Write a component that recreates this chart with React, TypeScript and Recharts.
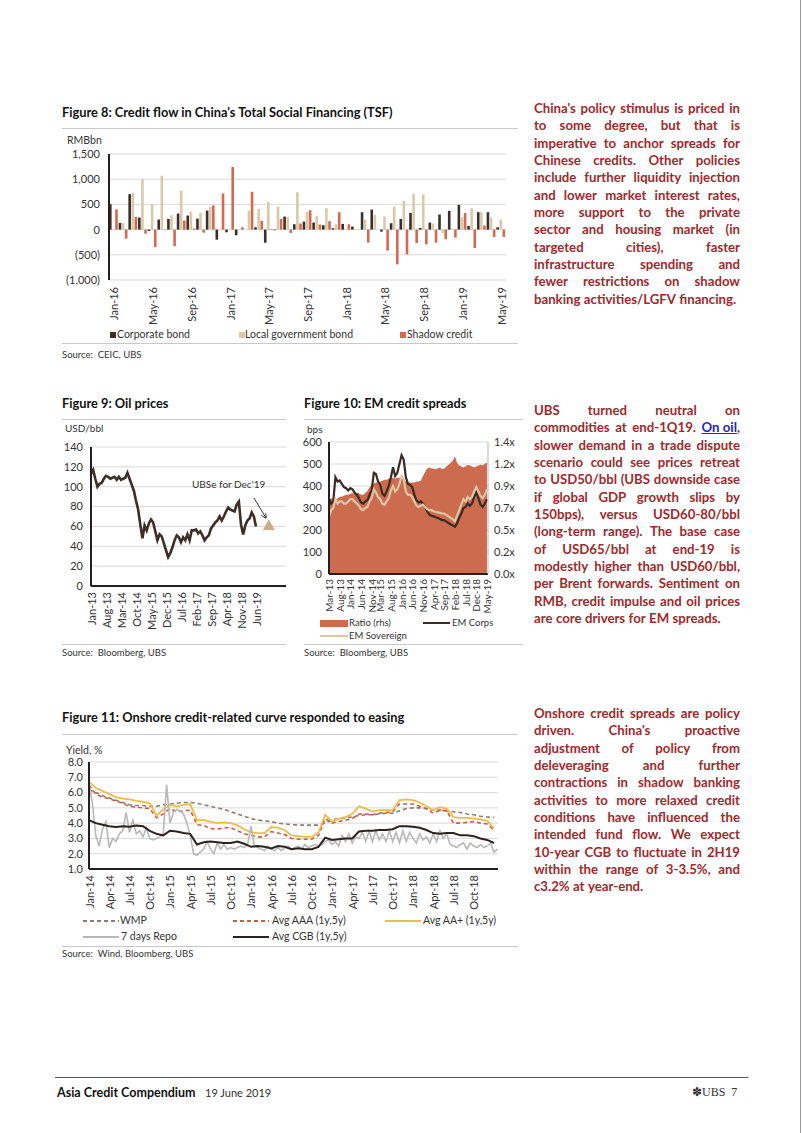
import React from "react";
import { BarChart, Bar, XAxis, YAxis, CartesianGrid, LineChart, Line, ComposedChart, Area, Scatter } from "recharts";

const FONT = "Lato, 'Open Sans', sans-serif";
const INK = "#333";
const GRID = "#d9d9d9";
const AXIS = "#231f20";
const RED_TEXT = "#9e2a2b";

const MON = ["Jan", "Feb", "Mar", "Apr", "May", "Jun", "Jul", "Aug", "Sep", "Oct", "Nov", "Dec"];
// month names for category axes, e.g. monthSeq(2016, 0, 3) -> Jan-16, Feb-16, Mar-16
const monthSeq = (year: number, month: number, n: number) =>
	Array.from({ length: n }, (_, i) => {
		const t = month + i;
		return `${MON[t % 12]}-${String((year + Math.floor(t / 12)) % 100).padStart(2, "0")}`;
	});

// ---- Figure 8: TSF credit flow, RMBbn, Jan-16 .. May-19
const tsfMonths = monthSeq(2016, 0, 41);
const corporateBond = [505, 133, 704, 240, -27, 200, 212, 319, 279, 219, 378, -200, -53, -113, 0, 46, -260, -13, 259, 106, 160, 140, 86, 27, 113, 60, 345, 398, -40, 126, 212, 332, 33, 139, 299, 372, 491, 73, 345, 345, 46];
const localGovBond = [0, 130, 724, 1003, 505, 1069, 285, 770, 358, 332, 451, 10, 0, 0, 378, 410, 545, 458, 250, 743, 352, 272, 425, 107, 0, 0, 199, 292, 259, 458, 571, 704, 697, 120, -66, 20, 246, 425, 345, 239, 199];
const shadowCredit = [400, -180, 252, -80, -345, -10, -325, 180, 20, -60, 478, 717, 1242, 46, 750, 173, 15, 212, -66, 120, 385, 100, 166, 345, 106, 0, -259, 0, -418, -690, -491, -265, -292, -259, -193, -159, 332, -365, 80, -146, -146];
const tsfTicks = [-1000, -500, 0, 500, 1000, 1500];

// ---- Figure 9: Brent, USD/bbl, monthly Jan-13 .. Jun-19
const brent = [
	113, 117, 108, 100, 103, 104, 108, 111, 110, 108, 109, 110,
	107, 110, 107, 108, 109, 114, 108, 102, 96, 86, 77, 62,
	48, 61, 56, 63, 67, 64, 55, 46, 52, 50, 43, 36,
	29, 33, 39, 46, 51, 49, 44, 49, 46, 52, 46, 56,
	56, 57, 53, 55, 51, 46, 49, 51, 58, 61, 64, 66,
	70, 66, 70, 75, 79, 77, 76, 75, 82, 85, 62, 52,
	61, 66, 68, 74, 70, 60,
];
const oilForecastMonth = 83; // Dec-19
const oilForecastValue = 60;
const oilTicks = [0, 7, 14, 21, 28, 35, 42, 49, 56, 63, 70, 77];
const oilTickLabels = ["Jan-13", "Aug-13", "Mar-14", "Oct-14", "May-15", "Dec-15", "Jul-16", "Feb-17", "Sep-17", "Apr-18", "Nov-18", "Jun-19"];

// ---- Figure 10: EM spreads, monthly Mar-13 .. May-19
const emRatio = [
	0.8, 0.8, 0.8, 0.78, 0.8, 0.82, 0.82, 0.83, 0.84, 0.84,
	0.85, 0.86, 0.85, 0.86, 0.86, 0.84, 0.84, 0.86, 0.88, 0.92, 0.95, 0.96,
	0.97, 0.97, 0.98, 0.99, 1.0, 1.0, 1.01, 1.02, 1.02, 1.01, 1.02, 1.02,
	1.03, 1.0, 0.98, 0.97, 0.97, 0.97, 0.97, 0.98, 0.98, 0.99, 1.04, 1.08,
	1.12, 1.13, 1.12, 1.12, 1.11, 1.12, 1.13, 1.11, 1.12, 1.14, 1.16, 1.18,
	1.2, 1.25, 1.18, 1.15, 1.14, 1.13, 1.14, 1.16, 1.15, 1.14, 1.13, 1.14,
	1.15, 1.16, 1.15, 1.17, 1.18,
];
const emCorps = [
	340, 320, 330, 440, 420, 425, 410, 395, 390, 380,
	390, 385, 370, 360, 345, 325, 320, 330, 335, 360, 380, 460,
	455, 420, 405, 365, 355, 375, 400, 440, 485, 445, 460, 500,
	540, 520, 440, 410, 405, 395, 360, 335, 325, 330, 320, 305,
	285, 270, 265, 262, 258, 255, 250, 245, 245, 238, 232, 225,
	220, 215, 230, 255, 275, 300, 305, 320, 310, 320, 350, 370,
	345, 315, 305, 320, 340,
];
const emSovereign = [
	260, 290, 300, 340, 320, 330, 330, 320, 320, 330,
	340, 340, 330, 320, 310, 295, 290, 300, 305, 330, 345, 385,
	370, 350, 340, 320, 315, 330, 345, 380, 400, 375, 385, 410,
	445, 430, 375, 360, 360, 350, 330, 310, 305, 310, 315, 305,
	295, 290, 290, 285, 282, 280, 278, 275, 275, 268, 262, 255,
	248, 240, 265, 290, 315, 340, 330, 350, 340, 350, 375, 395,
	375, 355, 345, 360, 385,
];
const emTicks = [0, 5, 10, 15, 20, 24, 29, 34, 39, 44, 49, 54, 59, 64, 69, 74];
const emTickLabels = ["Mar-13", "Aug-13", "Jan-14", "Jun-14", "Nov-14", "Mar-15", "Aug-15", "Jan-16", "Jun-16", "Nov-16", "Apr-17", "Sep-17", "Feb-18", "Jul-18", "Dec-18", "May-19"];
const ratioTicks = [0, 1.4 / 6, 2.8 / 6, 0.7, 5.6 / 6, 7 / 6, 1.4];

// ---- Figure 11: onshore yields, %, monthly Jan-14 .. Jan-19 (repo half-monthly)
const wmp = [
	6.2, 6.0, 5.8, 5.65, 5.5, 5.35, 5.2, 5.15, 5.15, 5.1, 5.1, 5.2,
	5.25, 5.3, 5.35, 5.35, 5.3, 5.2, 5.1, 5.0, 4.9, 4.75, 4.6, 4.45,
	4.3, 4.2, 4.15, 4.1, 4.0, 3.95, 3.9, 3.88, 3.87, 3.87, 3.87, 4.0,
	4.2, 4.3, 4.35, 4.4, 4.5, 4.55, 4.55, 4.6, 4.65, 4.65, 4.8, 4.95,
	5.0, 5.0, 4.95, 4.85, 4.85, 4.8, 4.75, 4.7, 4.6, 4.55, 4.45, 4.4,
	4.38,
];
const avgAAA = [
	6.5, 5.9, 5.7, 5.6, 5.45, 5.3, 5.1, 5.05, 5.0, 4.95, 4.35, 4.6,
	4.95, 4.75, 4.8, 4.85, 3.9, 3.85, 3.65, 3.6, 3.7, 3.7, 3.5, 3.3,
	3.2, 3.1, 3.1, 3.45, 3.35, 3.25, 3.0, 2.95, 2.95, 2.95, 3.2, 4.3,
	4.0, 4.1, 4.2, 4.3, 4.6, 4.6, 4.55, 4.65, 4.7, 4.75, 5.25, 5.25,
	5.25, 5.1, 4.95, 4.65, 4.85, 4.8, 4.0, 4.0, 4.05, 4.1, 4.0, 3.95,
	3.55,
];
const avgAAplus = [
	6.7, 6.3, 6.1, 5.9, 5.7, 5.6, 5.55, 5.45, 5.4, 5.3, 4.5, 4.9,
	5.2, 5.1, 5.2, 5.25, 4.2, 4.2, 4.1, 4.0, 4.05, 4.0, 3.85, 3.6,
	3.4, 3.35, 3.35, 3.75, 3.7, 3.55, 3.2, 3.15, 3.1, 3.1, 3.4, 4.55,
	4.1, 4.3, 4.4, 4.6, 5.1, 4.95, 4.75, 4.85, 4.85, 4.85, 5.5, 5.55,
	5.5, 5.35, 5.1, 4.85, 5.05, 4.95, 4.4, 4.35, 4.35, 4.3, 4.25, 4.15,
	3.65,
];
const avgCGB = [
	4.2, 4.0, 3.9, 3.8, 3.75, 3.8, 3.77, 3.85, 3.8, 3.5, 3.3, 3.2,
	3.5, 3.45, 3.35, 3.3, 2.6, 2.75, 2.8, 2.75, 2.7, 2.7, 2.8, 2.65,
	2.45, 2.5, 2.45, 2.35, 2.5, 2.45, 2.3, 2.35, 2.3, 2.3, 2.45, 3.05,
	2.9, 2.95, 3.0, 3.0, 3.45, 3.5, 3.5, 3.55, 3.55, 3.6, 3.8, 3.8,
	3.77, 3.7, 3.55, 3.35, 3.3, 3.35, 3.35, 3.2, 3.2, 3.15, 3.0, 2.9,
	2.7,
];
const repo7d = [
	6.6, 5.3, 3.2, 2.5, 3.6, 4.1, 2.4, 3.0, 2.8, 3.3, 3.5, 4.7, 3.4, 4.2, 3.3, 3.5, 3.1, 3.7, 3.0, 2.9, 3.0, 3.1, 3.3, 6.5,
	4.0, 4.7, 4.9, 4.8, 4.6, 4.0, 3.2, 2.0, 1.9, 2.1, 2.3, 2.8, 2.3, 2.0, 2.7, 2.3, 2.6, 2.3, 2.4, 2.3, 2.4, 2.5, 2.4, 2.6,
	3.8, 2.5, 2.4, 2.3, 2.2, 2.5, 2.3, 2.2, 2.4, 2.2, 2.4, 2.5, 2.3, 2.4, 2.5, 2.3, 2.6, 2.4, 2.5, 2.6, 2.5, 2.6, 2.8, 2.9,
	2.6, 2.8, 2.5, 3.2, 2.8, 3.3, 2.7, 3.1, 3.0, 3.4, 2.8, 3.5, 2.8, 3.5, 2.9, 3.3, 2.8, 3.5, 2.8, 3.4, 2.7, 3.5, 2.8, 3.4,
	3.0, 2.7, 3.3, 2.9, 3.1, 2.7, 3.3, 2.8, 3.5, 3.0, 3.3, 2.6, 2.5, 2.4, 2.6, 2.7, 2.3, 2.7, 2.5, 2.4, 2.6, 2.4, 2.5, 2.7,
	2.1, 2.3,
];
const yieldTicks = [0, 3, 6, 9, 12, 15, 18, 21, 24, 27, 30, 33, 36, 39, 42, 45, 48, 51, 54, 57];
const yieldTickLabels = ["Jan-14", "Apr-14", "Jul-14", "Oct-14", "Jan-15", "Apr-15", "Jul-15", "Oct-15", "Jan-16", "Apr-16", "Jul-16", "Oct-16", "Jan-17", "Apr-17", "Jul-17", "Oct-17", "Jan-18", "Apr-18", "Jul-18", "Oct-18"];

// ---- right-hand commentary
const para1 = [
	"China's policy stimulus is priced in",
	"to some degree, but that is",
	"imperative to anchor spreads for",
	"Chinese credits. Other policies",
	"include further liquidity injection",
	"and lower market interest rates,",
	"more support to the private",
	"sector and housing market (in",
	"targeted cities), faster",
	"infrastructure spending and",
	"fewer restrictions on shadow",
	"banking activities/LGFV financing.",
];
const para2 = [
	"UBS turned neutral on",
	"commodities at end-1Q19. On\u00a0oil,",
	"slower demand in a trade dispute",
	"scenario could see prices retreat",
	"to USD50/bbl (UBS downside case",
	"if global GDP growth slips by",
	"150bps), versus USD60-80/bbl",
	"(long-term range). The base case",
	"of USD65/bbl at end-19 is",
	"modestly higher than USD60/bbl,",
	"per Brent forwards. Sentiment on",
	"RMB, credit impulse and oil prices",
	"are core drivers for EM spreads.",
];
const para3 = [
	"Onshore credit spreads are policy",
	"driven. China's proactive",
	"adjustment of policy from",
	"deleveraging and further",
	"contractions in shadow banking",
	"activities to more relaxed credit",
	"conditions have influenced the",
	"intended fund flow. We expect",
	"10-year CGB to fluctuate in 2H19",
	"within the range of 3-3.5%, and",
	"c3.2% at year-end.",
];

const tsfData = tsfMonths.map((m, i) => ({ m, corp: corporateBond[i], lgb: localGovBond[i], shadow: shadowCredit[i] }));
const oilData = brent.map((v, i) => ({ t: i, v }));
const oilForecast = [{ t: oilForecastMonth, v: oilForecastValue }];
const emData = emRatio.map((r, i) => ({ t: i, ratio: r, corps: emCorps[i], sov: emSovereign[i] }));
const yieldData = wmp.map((v, i) => ({ t: i, wmp: v, aaa: avgAAA[i], aap: avgAAplus[i], cgb: avgCGB[i] }));
const repoData = repo7d.map((v, i) => ({ t: i * 0.5, repo: v }));

const fmtThousands = (v: number) => (v < 0 ? `(${Math.abs(v).toLocaleString("en-US")})` : v.toLocaleString("en-US"));

const tickStyle = { fontSize: 11, fill: INK, fontFamily: FONT };

function RotTick(props: any) {
	const { x, y, payload, labels, ticks, size = 11 } = props;
	const label = labels ? labels[ticks.indexOf(payload.value)] : payload.value;
	return (
		<text x={x} y={y} transform={`rotate(-90 ${x} ${y})`} textAnchor="end" dominantBaseline="central" fontSize={size} fill={INK} fontFamily={FONT}>
			{label}
		</text>
	);
}

function Txt({ x, y, size = 11, bold = false, color = INK, children }: any) {
	return (
		<div style={{ position: "absolute", left: x, top: y - size * 0.62, fontSize: size, lineHeight: `${size * 1.2}px`, fontWeight: bold ? 700 : 400, color, whiteSpace: "pre", fontFamily: FONT }}>
			{children}
		</div>
	);
}

function Rule({ x1, x2, y, color = "#c8c8c8" }: any) {
	return <div style={{ position: "absolute", left: x1, top: y, width: x2 - x1, height: 1, background: color }} />;
}

function Para({ lines, top }: { lines: string[]; top: number }) {
	return (
		<div style={{ position: "absolute", left: 534, top, width: 206, fontSize: 13.2, fontWeight: 700, color: RED_TEXT, lineHeight: "17.35px", fontFamily: FONT }}>
			{lines.map((ln, i) => {
				const last = i === lines.length - 1;
				return (
					<div key={i} style={{ display: "flex", justifyContent: last ? "flex-start" : "space-between", gap: last ? "0.26em" : 0, whiteSpace: "pre" }}>
						{ln.split(" ").map((w, j) =>
							w.startsWith("On\u00a0oil") ? (
								<span key={j}>
									<span style={{ color: "#2323cc", textDecoration: "underline" }}>On oil</span>,
								</span>
							) : (
								<span key={j}>{w}</span>
							)
						)}
					</div>
				);
			})}
		</div>
	);
}

function LineSwatch({ x, y, color, dash, width = 2 }: any) {
	return (
		<svg style={{ position: "absolute", left: x, top: y - 3 }} width={36} height={6}>
			<line x1={0} y1={3} x2={36} y2={3} stroke={color} strokeWidth={width} strokeDasharray={dash} />
		</svg>
	);
}

function Fig8() {
	return (
		<div style={{ position: "absolute", left: 60, top: 135 }}>
			<BarChart width={454} height={192} data={tsfData} margin={{ top: 19, right: 8, bottom: 0, left: 0 }} barSize={2.6} barGap={0.5}>
				<CartesianGrid vertical={false} stroke={GRID} />
				<XAxis dataKey="m" interval={3} axisLine={false} tickLine={false} tickSize={0} tickMargin={7} height={47} tick={(p: any) => <RotTick {...p} />} />
				<YAxis domain={[-1000, 1500]} ticks={tsfTicks} interval={0} width={49} tickFormatter={fmtThousands} tick={tickStyle} tickLine={false} tickSize={0} tickMargin={9} axisLine={{ stroke: AXIS, strokeWidth: 2 }} />
				<Bar dataKey="corp" fill="#3b2f2a" isAnimationActive={false} />
				<Bar dataKey="lgb" fill="#d9c9a9" isAnimationActive={false} />
				<Bar dataKey="shadow" fill="#d4694d" isAnimationActive={false} />
			</BarChart>
		</div>
	);
}

function Fig9() {
	return (
		<div style={{ position: "absolute", left: 60, top: 437 }}>
			<ComposedChart width={226} height={195} data={oilData} margin={{ top: 10, right: 0, bottom: 0, left: 0 }}>
				<CartesianGrid vertical={false} stroke={GRID} />
				<XAxis type="number" dataKey="t" domain={[0, 91]} ticks={oilTicks} interval={0} axisLine={{ stroke: AXIS, strokeWidth: 2 }} tickLine={false} tickSize={0} tickMargin={6} height={46} tick={(p: any) => <RotTick {...p} labels={oilTickLabels} ticks={oilTicks} />} />
				<YAxis domain={[0, 140]} ticks={[0, 20, 40, 60, 80, 100, 120, 140]} interval={0} width={31} tick={tickStyle} tickLine={false} tickSize={0} tickMargin={8} axisLine={{ stroke: AXIS, strokeWidth: 2 }} />
				<Line dataKey="v" stroke="#3d2e27" strokeWidth={2.6} dot={false} isAnimationActive={false} />
				<Scatter data={oilForecast} dataKey="v" fill="#cfa98c" shape="triangle" isAnimationActive={false} />
			</ComposedChart>
		</div>
	);
}

function Fig10() {
	return (
		<div style={{ position: "absolute", left: 300, top: 432 }}>
			<ComposedChart width={225} height={182} data={emData} margin={{ top: 10, right: 0, bottom: 0, left: 0 }}>
				<CartesianGrid vertical={false} stroke={GRID} yAxisId="l" />
				<XAxis type="number" dataKey="t" domain={[0, 74.5]} ticks={emTicks} interval={0} axisLine={{ stroke: AXIS, strokeWidth: 2 }} tickLine={false} tickSize={0} tickMargin={5} height={40} tick={(p: any) => <RotTick {...p} labels={emTickLabels} ticks={emTicks} size={10} />} />
				<YAxis yAxisId="l" domain={[0, 600]} ticks={[0, 100, 200, 300, 400, 500, 600]} interval={0} width={29} tick={tickStyle} tickLine={false} tickSize={0} tickMargin={7} axisLine={{ stroke: AXIS, strokeWidth: 2 }} />
				<YAxis yAxisId="r" orientation="right" domain={[0, 1.4]} ticks={ratioTicks} interval={0} width={37} tickFormatter={(v: number) => `${v.toFixed(1)}x`} tick={tickStyle} tickLine={false} tickSize={0} tickMargin={6} axisLine={{ stroke: "#b5b5b5" }} />
				<Area yAxisId="r" dataKey="ratio" type="linear" stroke="none" fill="#cd6b4e" fillOpacity={1} isAnimationActive={false} />
				<Line yAxisId="l" dataKey="corps" stroke="#3a2b24" strokeWidth={2.2} dot={false} isAnimationActive={false} />
				<Line yAxisId="l" dataKey="sov" stroke="#dcc6a6" strokeWidth={2.2} dot={false} isAnimationActive={false} />
			</ComposedChart>
		</div>
	);
}

function Fig11() {
	return (
		<div style={{ position: "absolute", left: 60, top: 752 }}>
			<LineChart width={438} height={159} data={yieldData} margin={{ top: 10, right: 0, bottom: 0, left: 0 }}>
				<CartesianGrid vertical={false} stroke={GRID} />
				<XAxis type="number" dataKey="t" domain={[0, 60.6]} ticks={yieldTicks} interval={0} axisLine={{ stroke: AXIS, strokeWidth: 2 }} tickLine={false} tickSize={0} tickMargin={6} height={42} tick={(p: any) => <RotTick {...p} labels={yieldTickLabels} ticks={yieldTicks} />} />
				<YAxis domain={[1, 8]} ticks={[1, 2, 3, 4, 5, 6, 7, 8]} interval={0} width={29} tickFormatter={(v: number) => v.toFixed(1)} tick={tickStyle} tickLine={false} tickSize={0} tickMargin={6} axisLine={{ stroke: AXIS, strokeWidth: 2 }} />
				<Line dataKey="wmp" stroke="#8a7b74" strokeWidth={1.6} strokeDasharray="4 3" dot={false} isAnimationActive={false} />
				<Line dataKey="aaa" stroke="#cf5a48" strokeWidth={1.6} strokeDasharray="4 3" dot={false} isAnimationActive={false} />
				<Line dataKey="aap" stroke="#f0bc45" strokeWidth={1.8} dot={false} isAnimationActive={false} />
				<Line data={repoData} dataKey="repo" stroke="#b8b8b8" strokeWidth={1.6} dot={false} isAnimationActive={false} />
				<Line dataKey="cgb" stroke="#2a2321" strokeWidth={2} dot={false} isAnimationActive={false} />
			</LineChart>
		</div>
	);
}

export default function App() {
	const src = 9.5;
	const titleSize = 12.8;
	return (
		<div style={{ position: "absolute", left: 0, top: 0, width: 802, height: 1133, background: "#fff", fontFamily: FONT, overflow: "hidden" }}>
			{/* Figure 8 */}
			<Txt x={62} y={113} size={titleSize} bold color="#111">Figure 8: Credit flow in China's Total Social Financing (TSF)</Txt>
			<Rule x1={62} x2={518} y={128} />
			<Txt x={67} y={141} size={10.5}>RMBbn</Txt>
			<Fig8 />
			<div style={{ position: "absolute", left: 110, top: 332, width: 6, height: 6, background: "#3b2f2a" }} />
			<Txt x={117} y={335} size={10.5}>Corporate bond</Txt>
			<div style={{ position: "absolute", left: 239, top: 332, width: 6, height: 6, background: "#d9c9a9" }} />
			<Txt x={245} y={335} size={10.5}>Local government bond</Txt>
			<div style={{ position: "absolute", left: 400, top: 332, width: 6, height: 6, background: "#d4694d" }} />
			<Txt x={407} y={335} size={10.5}>Shadow credit</Txt>
			<Rule x1={62} x2={518} y={343} />
			<Txt x={62} y={355} size={src}>{"Source:  CEIC, UBS"}</Txt>

			{/* Figure 9 */}
			<Txt x={62} y={404} size={titleSize} bold color="#111">Figure 9: Oil prices</Txt>
			<Rule x1={62} x2={286} y={419} />
			<Txt x={65} y={428} size={10}>USD/bbl</Txt>
			<Fig9 />
			<Rule x1={62} x2={286} y={644} />
			<Txt x={62} y={653} size={src}>{"Source:  Bloomberg, UBS"}</Txt>

			{/* Figure 10 */}
			<Txt x={304} y={404} size={titleSize} bold color="#111">Figure 10: EM credit spreads</Txt>
			<Rule x1={304} x2={523} y={419} />
			<Txt x={307} y={429} size={10}>bps</Txt>
			<Fig10 />
			<div style={{ position: "absolute", left: 320, top: 620, width: 28, height: 7, background: "#cd6b4e" }} />
			<Txt x={349} y={623} size={9.5}>Ratio (rhs)</Txt>
			<div style={{ position: "absolute", left: 423, top: 622, width: 27, height: 2, background: "#3a2b24" }} />
			<Txt x={452} y={623} size={9.5}>EM Corps</Txt>
			<div style={{ position: "absolute", left: 320, top: 635, width: 28, height: 2, background: "#dcc6a6" }} />
			<Txt x={349} y={636} size={9.5}>EM Sovereign</Txt>
			<Rule x1={304} x2={523} y={644} />
			<Txt x={304} y={653} size={src}>{"Source:  Bloomberg, UBS"}</Txt>

			{/* Figure 11 */}
			<Txt x={62} y={718} size={titleSize} bold color="#111">Figure 11: Onshore credit-related curve responded to easing</Txt>
			<Rule x1={62} x2={518} y={734} />
			<Txt x={66} y={751} size={10.5}>Yield, %</Txt>
			<Fig11 />
			<LineSwatch x={83} y={921} color="#8a7b74" dash="4 3" />
			<Txt x={120} y={921} size={10.5}>WMP</Txt>
			<LineSwatch x={233} y={921} color="#cf5a48" dash="4 3" />
			<Txt x={272} y={921} size={10.5}>Avg AAA (1y,5y)</Txt>
			<LineSwatch x={385} y={921} color="#f0bc45" />
			<Txt x={423} y={921} size={10.5}>Avg AA+ (1y,5y)</Txt>
			<LineSwatch x={83} y={937} color="#b8b8b8" />
			<Txt x={121} y={937} size={10.5}>7 days Repo</Txt>
			<LineSwatch x={233} y={937} color="#2a2321" />
			<Txt x={272} y={937} size={10.5}>Avg CGB (1y,5y)</Txt>
			<Rule x1={62} x2={518} y={946} />
			<Txt x={62} y={954} size={src}>{"Source:  Wind, Bloomberg, UBS"}</Txt>

			{/* annotation on Figure 9 */}
			<svg style={{ position: "absolute", left: 0, top: 0, pointerEvents: "none" }} width={802} height={1133}>
				<defs>
					<marker id="ah" viewBox="0 0 10 10" refX="9" refY="5" markerWidth="6" markerHeight="6" orient="auto">
						<path d="M0,0 L10,5 L0,10" fill="none" stroke="#222" strokeWidth="1.5" />
					</marker>
				</defs>
				<text x={192} y={488} fontSize={10} fill={INK} fontFamily={FONT}>UBSe for Dec'19</text>
				<line x1={254} y1={498} x2={266} y2={518} stroke="#222" strokeWidth={0.9} markerEnd="url(#ah)" />
			</svg>

			{/* commentary */}
			<Para lines={para1} top={100} />
			<Para lines={para2} top={402} />
			<Para lines={para3} top={705} />

			{/* footer */}
			<Rule x1={55} x2={748} y={1077} color="#555" />
			<Txt x={57} y={1093} size={12.5} bold color="#111">Asia Credit Compendium</Txt>
			<Txt x={205} y={1093} size={11}>19 June 2019</Txt>
			<div style={{ position: "absolute", left: 692, top: 1085, fontFamily: "'Liberation Serif', serif", fontSize: 12, color: "#333", whiteSpace: "pre" }}>{"\u273DUBS  7"}</div>
			<div style={{ position: "absolute", left: 800, top: 0, width: 1, height: 1133, background: "#9a9a9a" }} />
		</div>
	);
}
